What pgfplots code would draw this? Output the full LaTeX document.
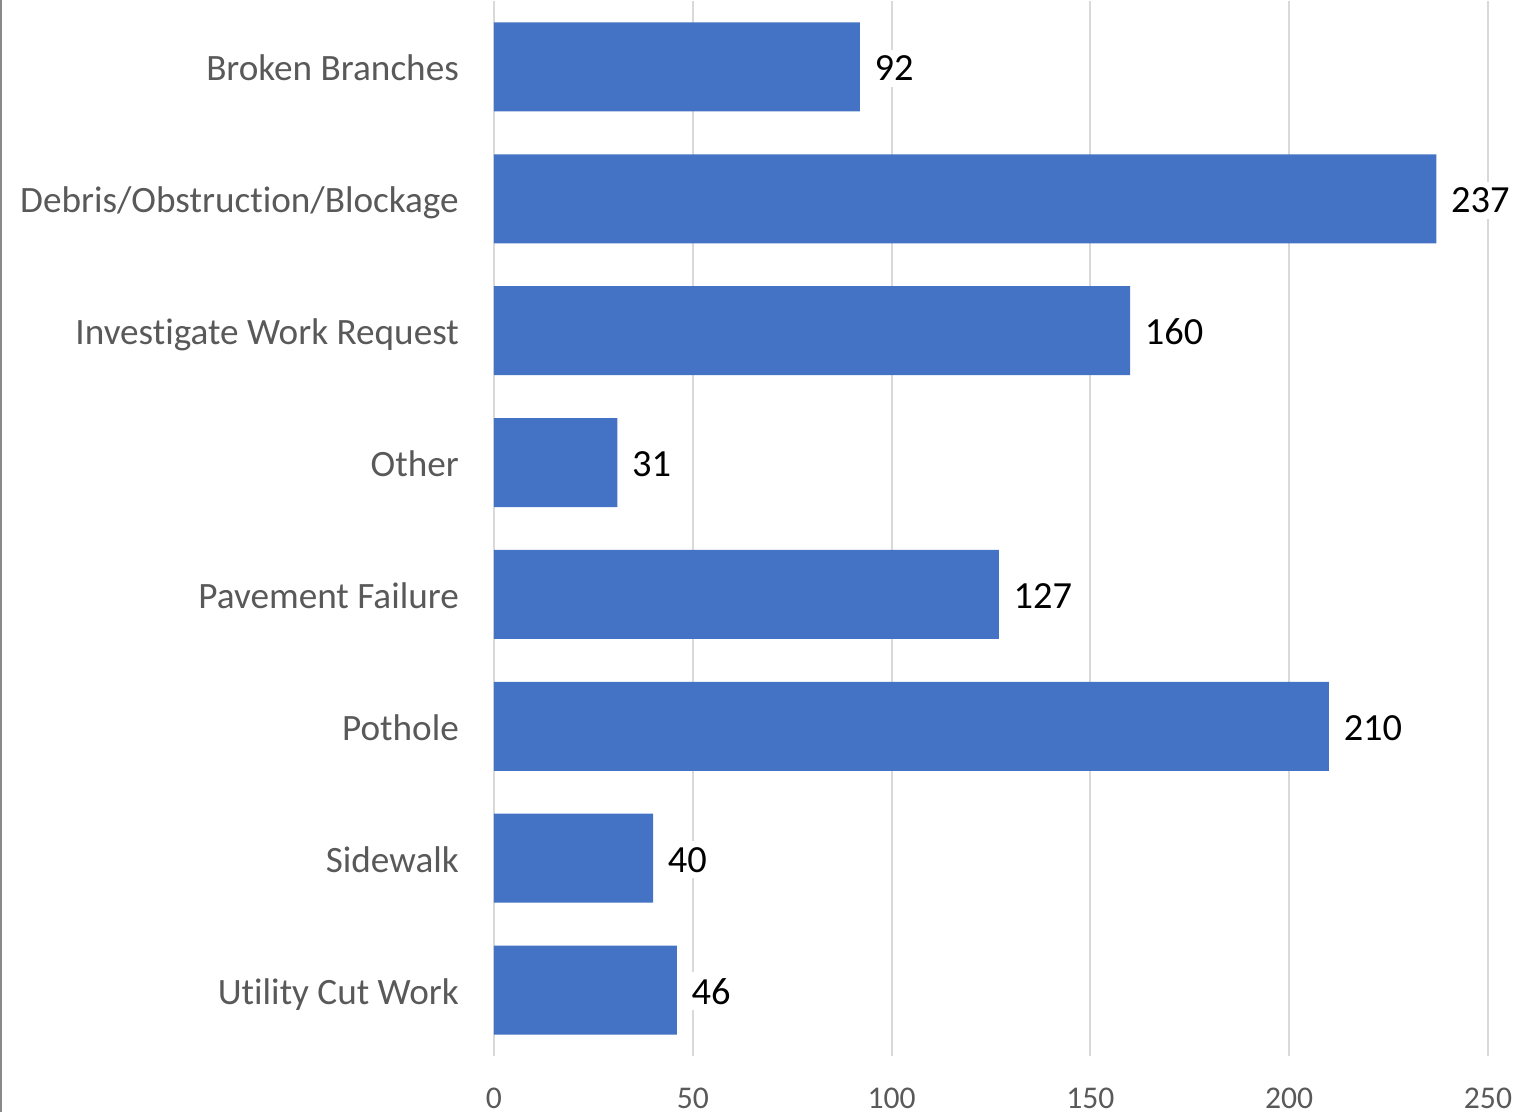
\documentclass[border=0pt]{standalone}
\usepackage{fontspec}
\setmainfont{Carlito}[Ligatures={NoCommon}]
\usepackage{pgfplots}
\pgfplotsset{compat=1.18}
\definecolor{barblue}{HTML}{4472C4}
\definecolor{labgray}{HTML}{595959}
\definecolor{gridgray}{HTML}{D9D9D9}
\definecolor{framegray}{HTML}{898989}
\begin{document}
\begin{tikzpicture}
\path[use as bounding box] (0,0) rectangle (383pt,278pt);
\draw[framegray, line width=0.5pt] (0.3pt,0) -- (0.3pt,278pt);
\begin{axis}[
  at={(123.5pt,14pt)}, anchor=south west,
  scale only axis,
  width=248.5pt, height=263.75pt,
  xbar, bar width=0.675,
  xmin=0, xmax=250,
  ymin=0.5, ymax=8.5,
  y dir=reverse,
  axis line style={draw=none},
  xtick={0,50,...,250},
  ytick={1,...,8},
  yticklabels={Broken Branches,Debris/Obstruction/Blockage,Investigate Work Request,Other,Pavement Failure,Pothole,Sidewalk,Utility Cut Work},
  major tick length=0pt,
  xmajorgrids,
  grid style={gridgray, line width=0.5pt},
  /pgf/number format/assume math mode=true,
  xticklabel style={font=\fontsize{7.9}{9}\selectfont, text=labgray, anchor=north, inner sep=0pt, yshift=-7.8pt},
  yticklabel style={font=\fontsize{9.3}{11}\selectfont, text=labgray, anchor=base east, inner sep=0pt, xshift=-8.6pt, yshift=-3.5pt},
  nodes near coords,
  nodes near coords style={font=\fontsize{9.6}{11}\selectfont, text=black, anchor=base west, fill=white, inner sep=1.5pt, xshift=2pt, yshift=-3.5pt},
  point meta=x,
  clip=false,
]
\addplot[fill=barblue, draw=none] coordinates {
(92,1) (237,2) (160,3) (31,4) (127,5) (210,6) (40,7) (46,8)
};
\end{axis}
\end{tikzpicture}
\end{document}
